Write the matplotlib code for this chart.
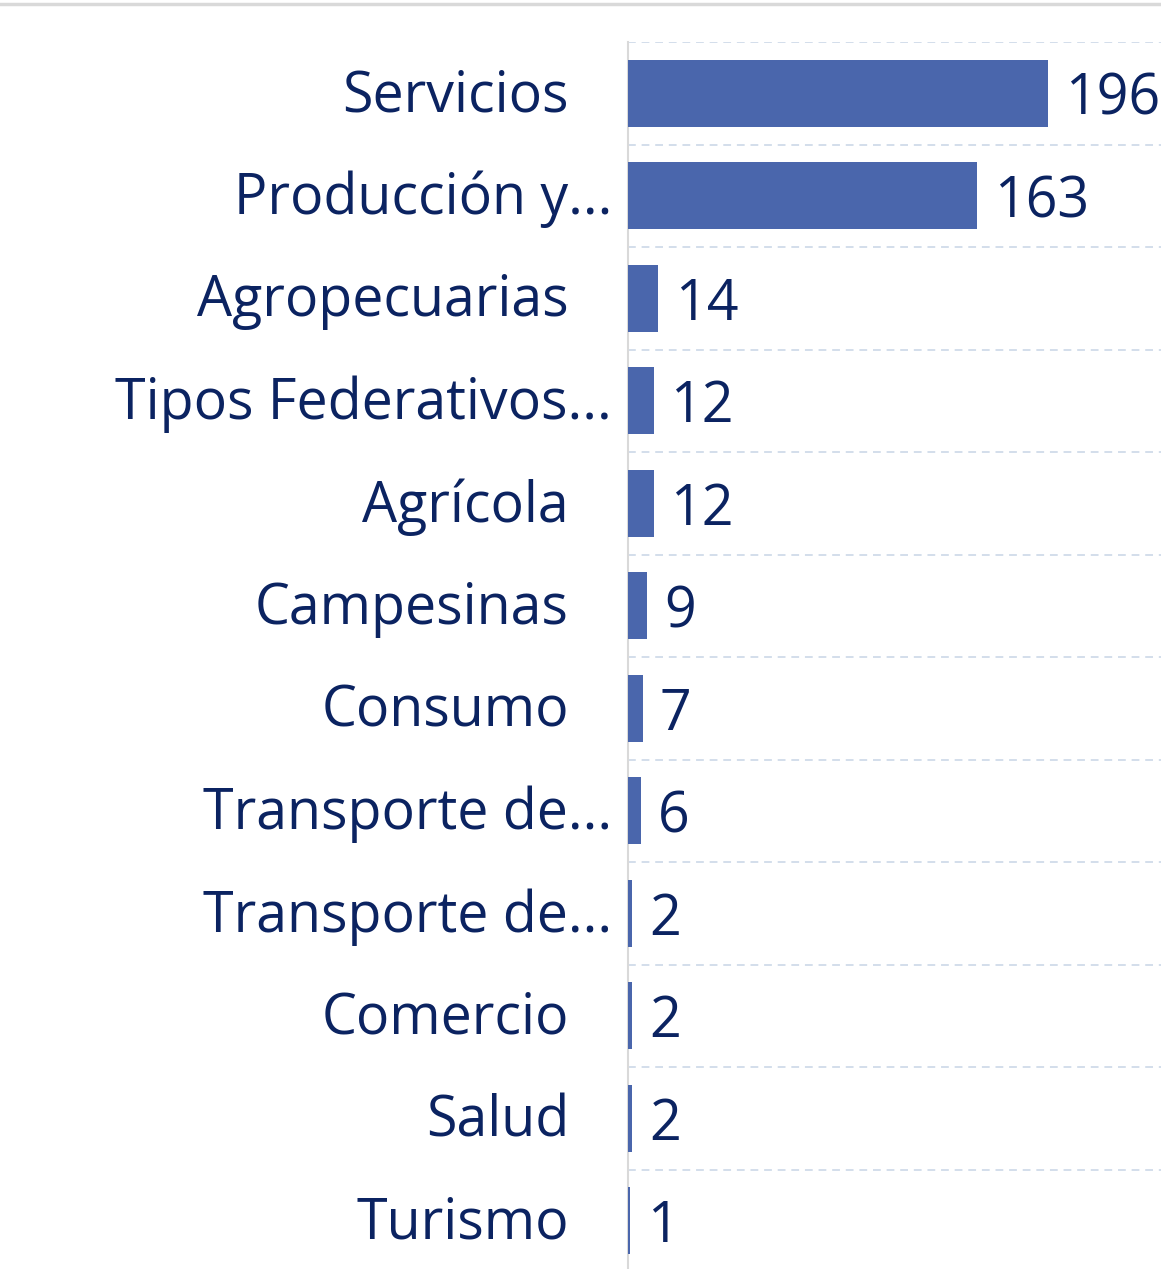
import numpy as np
import matplotlib
matplotlib.use("Agg")
import matplotlib.pyplot as plt
import matplotlib.transforms as mtransforms
from matplotlib.lines import Line2D

categories = ["Servicios", "Producción y...", "Agropecuarias", "Tipos Federativos...",
              "Agrícola", "Campesinas", "Consumo", "Transporte de...",
              "Transporte de...", "Comercio", "Salud", "Turismo"]
values = [196, 163, 14, 12, 12, 9, 7, 6, 2, 2, 2, 1]

BAR = "#4a66ac"
TXT = "#0b2361"
plt.rcParams["font.family"] = ["Open Sans", "DejaVu Sans"]

fig = plt.figure(figsize=(11.61, 12.69), dpi=100)
ax = fig.add_axes([628 / 1161, -3 / 1269, 533 / 1161, 1230 / 1269])

y = np.arange(len(categories))
bars = ax.barh(y, values, height=0.65, color=BAR, zorder=3)
ax.set_ylim(len(categories) - 0.5, -0.5)
ax.set_xlim(0, 248.7)

# category names drawn as text so they can be nudged (truncated ones sit closer)
ax.set_yticks(y, [""] * len(y))
for yi, lab in zip(y, categories):
    dx = -16 if lab.endswith("...") else -59
    tr = ax.get_yaxis_transform() + mtransforms.ScaledTranslation(dx / 100, -3.5 / 100, fig.dpi_scale_trans)
    ax.text(0, yi, lab, transform=tr, ha="right", va="center", fontsize=40, color=TXT)
ax.tick_params(axis="y", length=0)
ax.set_xticks([])

# gridlines sit between the categories
ax.set_yticks(np.arange(len(categories) + 1) - 0.5, minor=True)
ax.tick_params(axis="y", which="minor", length=0)
ax.grid(axis="y", which="minor", color="#d3deeb", linestyle=(0, (4, 3)), linewidth=1.4)

anns = ax.bar_label(bars, fontsize=40, color=TXT)
for a in anns:
    a.xyann = (12, -5)

for s in ["top", "right", "bottom"]:
    ax.spines[s].set_visible(False)
ax.spines["left"].set_color("#d9d9d9")
ax.spines["left"].set_linewidth(1.5)

fig.add_artist(Line2D([0, 1], [1 - 4 / 1269] * 2, color="#d9d9d9", linewidth=2.5))

fig.savefig("out.png", dpi=100)
